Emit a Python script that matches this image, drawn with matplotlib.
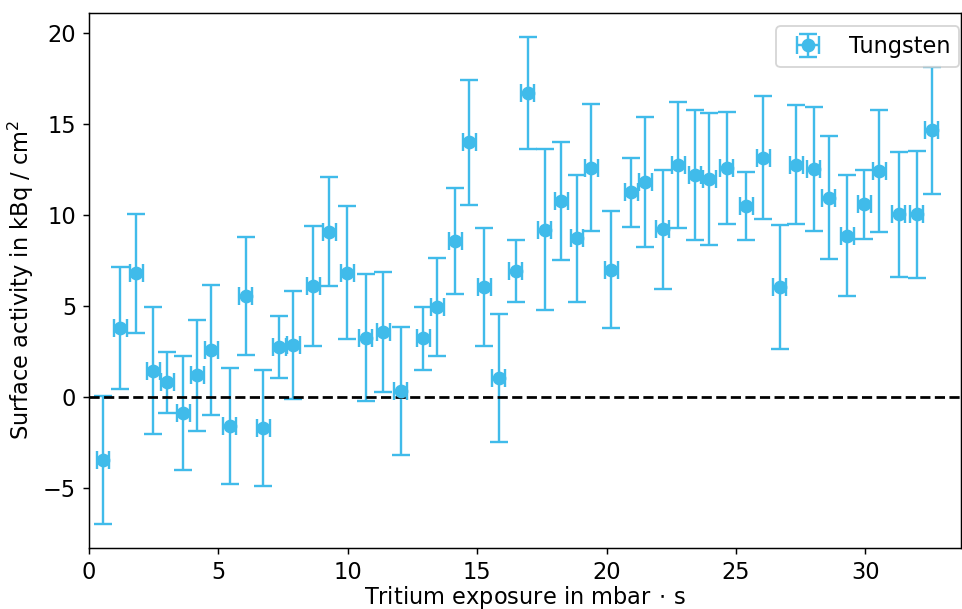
import matplotlib
matplotlib.use('Agg')
import matplotlib.pyplot as plt

plt.rcParams['font.size'] = 12.3

# Tritium exposure (mbar s) and surface activity (kBq / cm^2)
exposure = [0.54, 1.20, 1.82, 2.48, 3.02, 3.64, 4.19, 4.73, 5.43, 6.05,
            6.74, 7.36, 7.90, 8.67, 9.28, 9.99, 10.70, 11.37, 12.04, 12.91,
            13.46, 14.15, 14.69, 15.28, 15.83, 16.49, 16.96, 17.62, 18.26, 18.86,
            19.42, 20.19, 20.96, 21.49, 22.18, 22.78, 23.42, 23.97, 24.65, 25.41,
            26.05, 26.69, 27.34, 28.00, 28.58, 29.30, 29.97, 30.55, 31.30, 31.99,
            32.56]
activity = [-3.45, 3.80, 6.80, 1.45, 0.80, -0.88, 1.20, 2.60, -1.58, 5.55,
            -1.70, 2.75, 2.86, 6.10, 9.10, 6.83, 3.26, 3.59, 0.35, 3.22,
            4.96, 8.59, 14.00, 6.06, 1.03, 6.92, 16.72, 9.21, 10.80, 8.72,
            12.62, 7.01, 11.26, 11.83, 9.23, 12.76, 12.21, 11.98, 12.60, 10.51,
            13.15, 6.06, 12.78, 12.55, 10.97, 8.88, 10.59, 12.42, 10.04, 10.04,
            14.67]
activity_err = [3.52, 3.35, 3.27, 3.50, 1.70, 3.15, 3.05, 3.57, 3.19, 3.25,
                3.20, 1.70, 2.97, 3.30, 3.00, 3.65, 3.48, 3.30, 3.52, 1.74,
                2.69, 2.92, 3.46, 3.24, 3.53, 1.69, 3.08, 4.45, 3.24, 3.50,
                3.49, 3.20, 1.90, 3.57, 3.27, 3.47, 3.56, 3.63, 3.10, 1.86,
                3.38, 3.40, 3.26, 3.40, 3.40, 3.35, 1.88, 3.35, 3.43, 3.47,
                3.48]
exposure_err = 0.25

color = '#40bbea'

fig = plt.figure(figsize=(962 / 132, 609 / 132), dpi=132)
ax = fig.add_axes([89 / 962, 1 - 548 / 609, 872 / 962, (548 - 12.7) / 609])

ax.errorbar(exposure, activity, yerr=activity_err, xerr=exposure_err,
            fmt='o', color=color, markersize=6.5, elinewidth=1.3,
            capsize=5, capthick=1.3, label='Tungsten')
ax.axhline(0, color='black', linestyle='--', linewidth=1.5)

ax.set_xlim(0, 33.7)
ax.set_xlabel(r'Tritium exposure in mbar$\,\cdot\,$s', labelpad=0)
ax.set_ylabel(r'Surface activity in kBq / cm$^2$')
ax.legend(loc='upper right', bbox_to_anchor=(1.0107, 0.996))

fig.savefig('out.png', dpi=132)
